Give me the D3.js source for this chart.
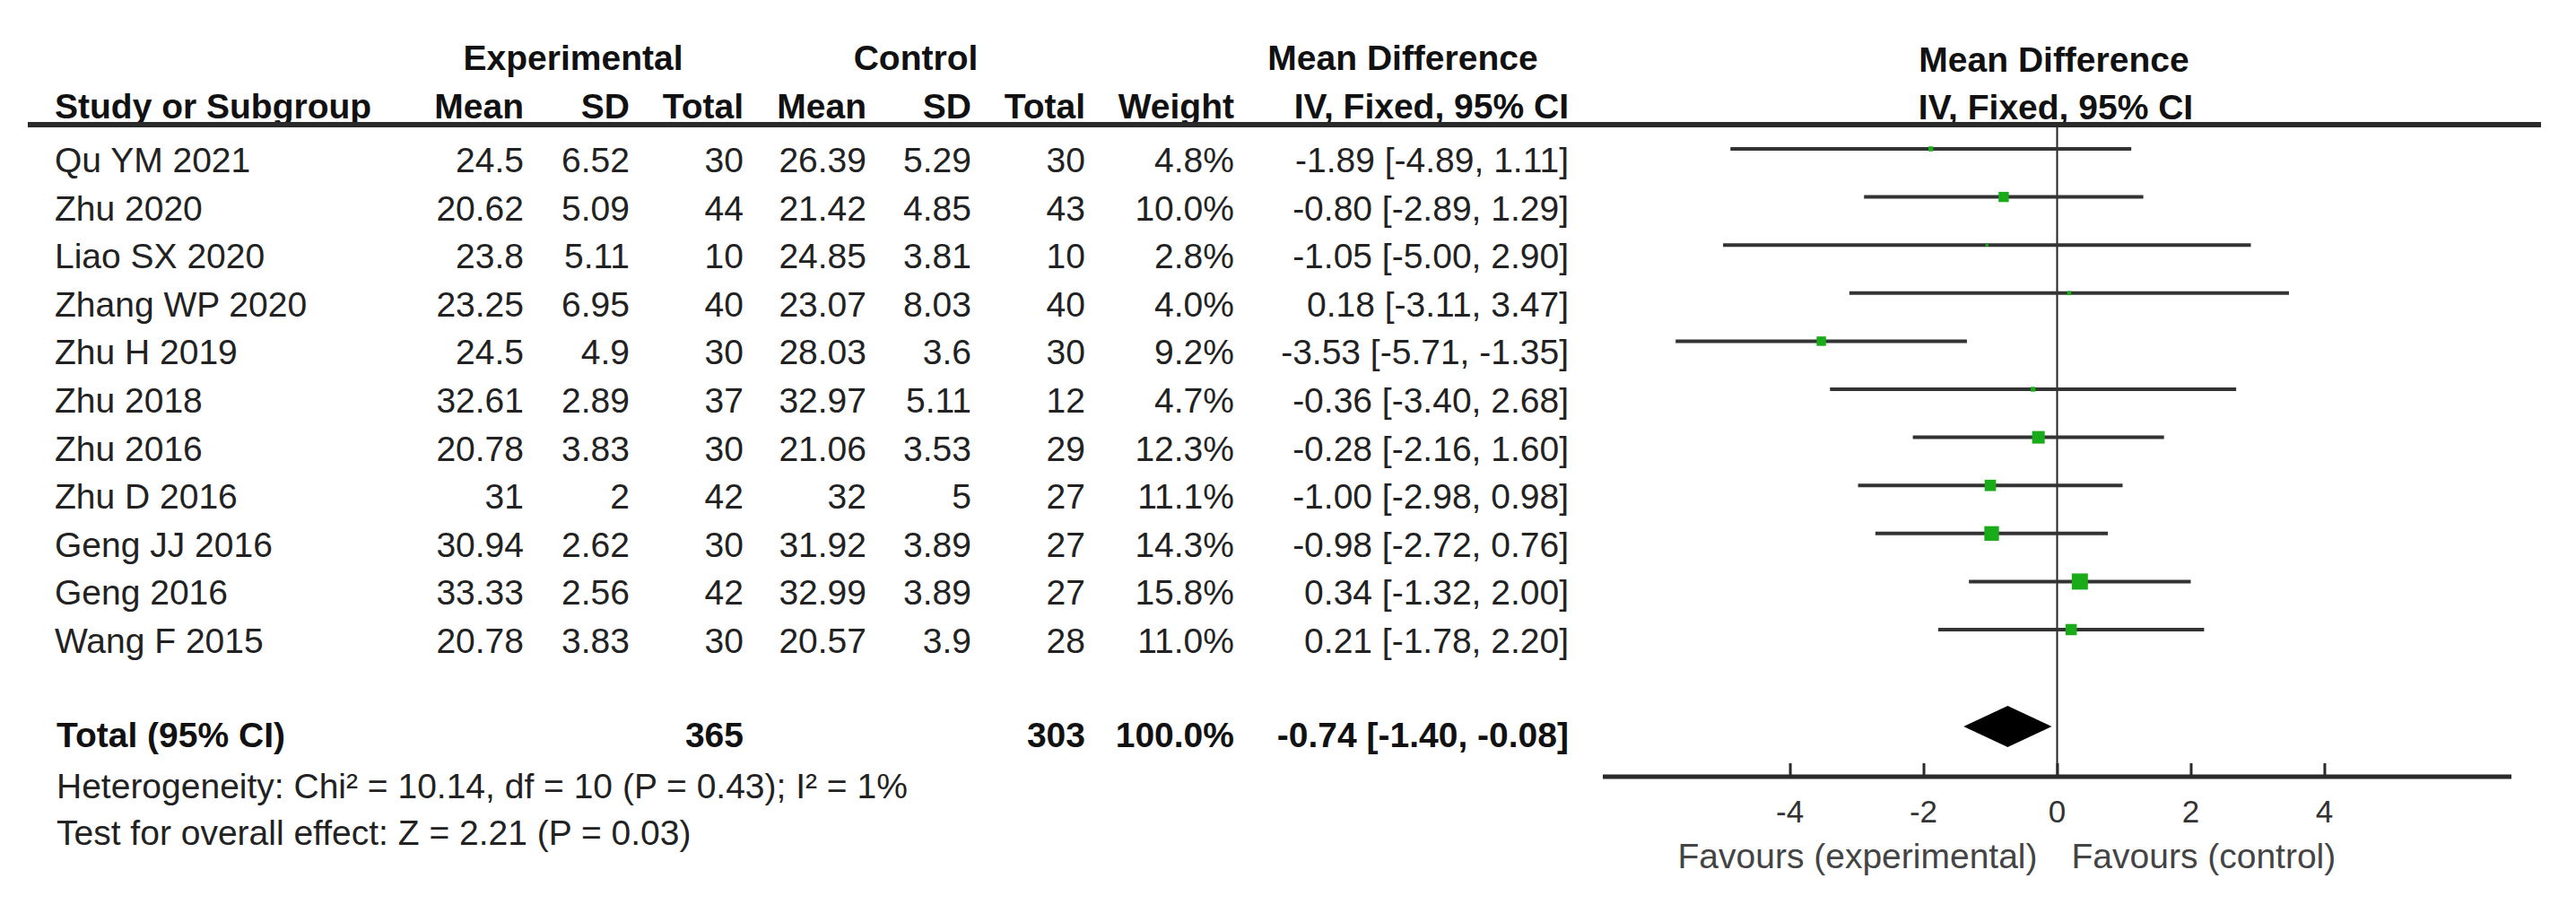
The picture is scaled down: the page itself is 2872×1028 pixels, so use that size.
<!DOCTYPE html>
<html>
<head>
<meta charset="utf-8">
<script src="https://cdn.jsdelivr.net/npm/d3@7"></script>
<style>
  html, body { margin: 0; padding: 0; background: #fff; }
  svg { display: block; font-family: "Liberation Sans", Arial, sans-serif; }
</style>
</head>
<body>
<svg id="chart" width="2872" height="1028"></svg>
<script>
'use strict';

/* study rows, top to bottom */
const studies  = ['Qu YM 2021', 'Zhu 2020', 'Liao SX 2020', 'Zhang WP 2020', 'Zhu H 2019', 'Zhu 2018',
                  'Zhu 2016', 'Zhu D 2016', 'Geng JJ 2016', 'Geng 2016', 'Wang F 2015'];
const expMean  = [24.5, 20.62, 23.8, 23.25, 24.5, 32.61, 20.78, 31, 30.94, 33.33, 20.78];
const expSD    = [6.52, 5.09, 5.11, 6.95, 4.9, 2.89, 3.83, 2, 2.62, 2.56, 3.83];
const expN     = [30, 44, 10, 40, 30, 37, 30, 42, 30, 42, 30];
const ctlMean  = [26.39, 21.42, 24.85, 23.07, 28.03, 32.97, 21.06, 32, 31.92, 32.99, 20.57];
const ctlSD    = [5.29, 4.85, 3.81, 8.03, 3.6, 5.11, 3.53, 5, 3.89, 3.89, 3.9];
const ctlN     = [30, 43, 10, 40, 30, 12, 29, 27, 27, 27, 28];
const weight   = [4.8, 10.0, 2.8, 4.0, 9.2, 4.7, 12.3, 11.1, 14.3, 15.8, 11.0];
const md       = [-1.89, -0.80, -1.05, 0.18, -3.53, -0.36, -0.28, -1.00, -0.98, 0.34, 0.21];
const ciLow    = [-4.89, -2.89, -5.00, -3.11, -5.71, -3.40, -2.16, -2.98, -2.72, -1.32, -1.78];
const ciHigh   = [1.11, 1.29, 2.90, 3.47, -1.35, 2.68, 1.60, 0.98, 0.76, 2.00, 2.20];

/* pooled result */
const total    = { expN: 365, ctlN: 303, weight: 100.0, md: -0.74, lo: -1.40, hi: -0.08 };
const footnotes = ['Heterogeneity: Chi² = 10.14, df = 10 (P = 0.43); I² = 1%',
                   'Test for overall effect: Z = 2.21 (P = 0.03)'];

/* axis */
const xDomain    = [-6.8, 6.8];
const tickValues = [-4, -2, 0, 2, 4];
const favours    = ['Favours (experimental)', 'Favours (control)'];

const svg = d3.select('#chart');
const FS = 39;
const ink = '#222';

const rows = studies.map((s, i) => ({
  study: s, em: expMean[i], es: expSD[i], en: expN[i],
  cm: ctlMean[i], cs: ctlSD[i], cn: ctlN[i],
  w: weight[i], md: md[i], lo: ciLow[i], hi: ciHigh[i]
}));

const y = d3.scalePoint().domain(studies).range([192, 728]);   // text baselines
const x = d3.scaleLinear().domain(xDomain).range([1787, 2800]);
const sq = d3.scaleLinear().domain([0, 15.8]).range([0, 18]);

// plain hyphen minus like RevMan, not d3's unicode minus
const fmt2 = v => v.toFixed(2);
const ciText = (m, lo, hi) => `${fmt2(m)} [${fmt2(lo)}, ${fmt2(hi)}]`;

/* column right edges for the table */
const cols = [
  { key: 'em', x: 584, head: 'Mean' },
  { key: 'es', x: 702, head: 'SD' },
  { key: 'en', x: 829, head: 'Total' },
  { key: 'cm', x: 966, head: 'Mean' },
  { key: 'cs', x: 1083, head: 'SD' },
  { key: 'cn', x: 1210, head: 'Total' },
  { key: 'w',  x: 1376, head: 'Weight', f: v => v.toFixed(1) + '%' },
  { key: 'ci', x: 1749, head: 'IV, Fixed, 95% CI', f: (v, d) => ciText(d.md, d.lo, d.hi) }
];

const txt = (sel, t, xx, yy, anchor, bold) => sel.append('text')
  .attr('x', xx).attr('y', yy).attr('text-anchor', anchor || 'start')
  .style('font-size', FS + 'px').style('font-weight', bold ? 'bold' : 'normal')
  .attr('fill', bold ? '#111' : ink).text(t);

/* headers */
const head = svg.append('g');
txt(head, 'Experimental', 639, 78, 'middle', true);
txt(head, 'Control', 1021, 78, 'middle', true);
txt(head, 'Mean Difference', 1564, 78, 'middle', true);
txt(head, 'Mean Difference', 2290, 80, 'middle', true);
txt(head, 'Study or Subgroup', 61, 132, 'start', true);
cols.forEach(c => txt(head, c.head, c.x, 132, 'end', true));
txt(head, 'IV, Fixed, 95% CI', 2292, 133, 'middle', true);

/* zero line, drawn under the header rule */
svg.append('line')
  .attr('x1', x(0)).attr('x2', x(0)).attr('y1', 139).attr('y2', 866)
  .attr('stroke', ink).attr('stroke-width', 2);

svg.append('line')
  .attr('x1', 31).attr('x2', 2833).attr('y1', 139).attr('y2', 139)
  .attr('stroke', '#2a2a2a').attr('stroke-width', 6);

/* table body */
const body = svg.append('g');
rows.forEach(d => {
  txt(body, d.study, 61, y(d.study), 'start');
  cols.forEach(c => {
    const v = d[c.key];
    txt(body, c.f ? c.f(v, d) : String(v), c.x, y(d.study), 'end');
  });
});

/* total row + footnotes */
txt(body, 'Total (95% CI)', 63, 833, 'start', true);
txt(body, String(total.expN), 829, 833, 'end', true);
txt(body, String(total.ctlN), 1210, 833, 'end', true);
txt(body, total.weight.toFixed(1) + '%', 1376, 833, 'end', true);
txt(body, ciText(total.md, total.lo, total.hi), 1749, 833, 'end', true);
txt(body, footnotes[0], 63, 890, 'start');
txt(body, footnotes[1], 63, 942, 'start');

/* forest marks */
const plot = svg.append('g');
plot.selectAll('line.ci').data(rows).join('line')
  .attr('class', 'ci')
  .attr('x1', d => x(d.lo)).attr('x2', d => x(d.hi))
  .attr('y1', d => y(d.study) - 26).attr('y2', d => y(d.study) - 26)
  .attr('stroke', '#333').attr('stroke-width', 4);

plot.selectAll('rect.sq').data(rows).join('rect')
  .attr('class', 'sq')
  .attr('x', d => x(d.md) - sq(d.w) / 2)
  .attr('y', d => y(d.study) - 26 - sq(d.w) / 2)
  .attr('width', d => sq(d.w)).attr('height', d => sq(d.w))
  .attr('fill', '#1aab1a');

const dy = 810, dh = 23;
plot.append('path')
  .attr('d', d3.line()([[x(total.lo), dy], [x(total.md), dy - dh], [x(total.hi), dy], [x(total.md), dy + dh]]) + 'Z')
  .attr('fill', '#000');

/* axis */
const axisY = 866;
const axis = svg.append('g').attr('transform', `translate(0,${axisY})`)
  .call(d3.axisTop(x).tickValues(tickValues).tickSize(15).tickFormat(''));
axis.select('.domain').attr('d', `M${x.range()[0]},0H${x.range()[1]}`)
  .attr('stroke', '#2a2a2a').attr('stroke-width', 5);
axis.selectAll('.tick line').attr('stroke', '#2a2a2a').attr('stroke-width', 3);

svg.append('g').selectAll('text').data(tickValues).join('text')
  .attr('x', d => x(d)).attr('y', 917).attr('text-anchor', 'middle')
  .style('font-size', '35px').attr('fill', '#333')
  .text(d => d < 0 ? '-' + Math.abs(d) : String(d));

svg.append('text').attr('x', x(0) - 22).attr('y', 968).attr('text-anchor', 'end')
  .style('font-size', '39px').attr('fill', '#444').text(favours[0]);
svg.append('text').attr('x', x(0) + 16).attr('y', 968).attr('text-anchor', 'start')
  .style('font-size', '39px').attr('fill', '#444').text(favours[1]);
</script>
</body>
</html>
